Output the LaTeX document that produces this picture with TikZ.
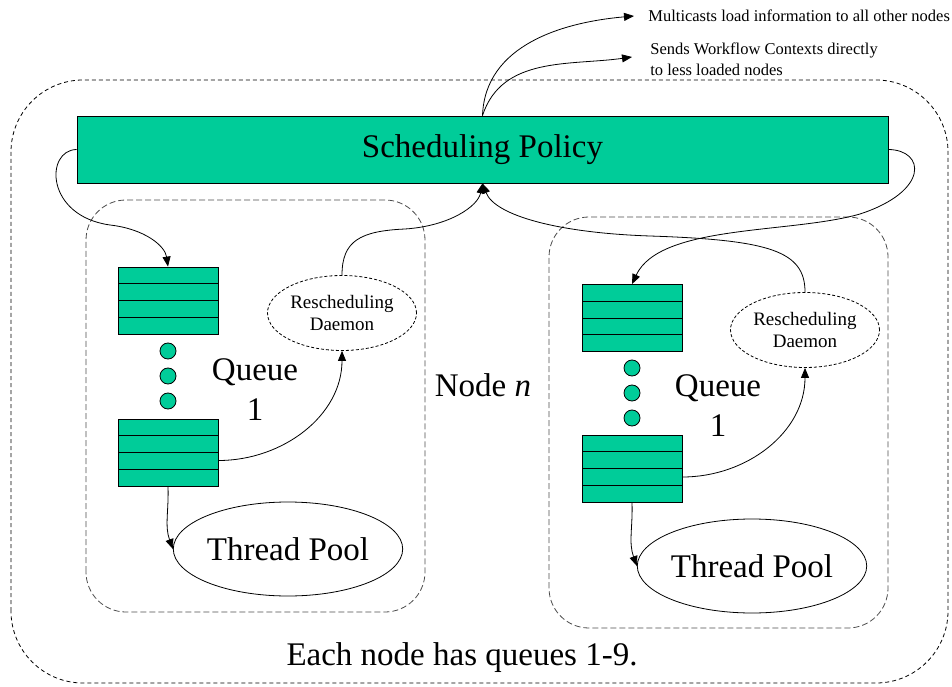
\documentclass[tikz,border=0pt]{standalone}
\usepackage{fontspec}
\setmainfont{Liberation Serif}
\usetikzlibrary{positioning, shapes.geometric, arrows.meta}
\definecolor{qgreen}{RGB}{0,204,153}

\begin{document}
\begin{tikzpicture}[x=1pt, y=1pt, line width=0.8pt,
    big/.style={font=\fontsize{33}{40}\selectfont, align=center},
    queuebox/.style={draw, fill=qgreen, minimum width=100pt, minimum height=67pt, inner sep=0pt,
      path picture={\foreach \k in {16.75,33.5,50.25}
        \draw ([yshift=-\k pt]path picture bounding box.north west) -- ([yshift=-\k pt]path picture bounding box.north east);}},
    qdot/.style={circle, draw, fill=qgreen, minimum size=16pt, inner sep=0pt},
    daemon/.style={ellipse, draw, dash pattern=on 3pt off 2pt, minimum width=149pt, minimum height=75pt,
      inner sep=0pt, align=center, font=\fontsize{19}{22}\selectfont},
    pool/.style={ellipse, draw, minimum width=223pt, minimum height=94pt, inner sep=0pt, big},
    nodebox/.style={draw, black!70, dash pattern=on 6pt off 3pt, rounded corners=40pt},
    note/.style={anchor=west, align=left, inner sep=0pt, font=\fontsize{16.5}{21}\selectfont},
    arr/.style={-{Triangle[length=10pt,width=8pt]}}]

  \useasboundingbox (0,0) rectangle (952,686);

  % whole system and the two nodes
  \draw[dash pattern=on 4pt off 3pt, rounded corners=72pt] (11,3) rectangle (948,606);
  \draw[nodebox] (86,74) rectangle (425,486);
  \draw[nodebox] (549,58) rectangle (888,469);

  \node[draw, fill=qgreen, minimum width=811pt, minimum height=67pt, big] (sched) at (482.5,536.5) {Scheduling Policy};

  % left node
  \node[queuebox] (lq1) at (168,385.5) {};
  \node[qdot] (ld1) at (168,335) {};
  \node[qdot] (ld2) at (168,310) {};
  \node[qdot] (ld3) at (168,285) {};
  \node[queuebox] (lq2) at (168,233.5) {};
  \node[big] (lqueue) at (255,296) {Queue\\1};
  \node[daemon] (ldaemon) at (342,373) {Rescheduling\\Daemon};
  \node[pool] (lpool) at (288,137) {Thread Pool};

  \node[big] (noden) at (483,301) {Node \textit{n}};

  % right node
  \node[queuebox] (rq1) at (632,368) {};
  \node[qdot] (rd1) at (632,318) {};
  \node[qdot] (rd2) at (632,293) {};
  \node[qdot] (rd3) at (632,268) {};
  \node[queuebox] (rq2) at (632,217.5) {};
  \node[big] (rqueue) at (718,280) {Queue\\1};
  \node[daemon] (rdaemon) at (805,356) {Rescheduling\\Daemon};
  \node[pool] (rpool) at (752,120) {Thread Pool};

  \node[big] (caption) at (462,28) {Each node has queues 1-9.};

  \node[note] (multi) at (648,670) {Multicasts load information to all other nodes};
  \node[note] (sends) at (650,627) {Sends Workflow Contexts directly\\to less loaded nodes};

  % connectors
  \draw[arr] (sched.north) to[out=88,in=185] ([xshift=-14pt]multi.west);
  \draw[arr] (sched.north) to[out=72,in=188] ([xshift=-18pt,yshift=2pt]sends.west);

  \draw[arr] (sched.west) .. controls (45,536) and (45,470) .. (110,461)
    .. controls (145,457) and (165,440) .. (lq1.north);
  \draw[arr] (ldaemon.north) .. controls (342,445) and (360,455) .. (405,457)
    .. controls (450,460) and (478,480) .. (sched.south);
  \draw[arr] ([yshift=-8pt]lq2.east) to[out=0,in=-90] (ldaemon.south);
  \draw[arr] (lq2.south) to[out=-88,in=110] (lpool.west);

  \draw[arr] (sched.east) .. controls (925,536) and (930,495) .. (860,472)
    .. controls (790,452) and (660,462) .. (rq1.north);
  \draw[arr] (rdaemon.north) .. controls (805,435) and (770,446) .. (650,450)
    .. controls (560,453) and (495,470) .. (sched.south);
  \draw[arr] ([yshift=-8.5pt]rq2.east) to[out=0,in=-90] (rdaemon.south);
  \draw[arr] (rq2.south) to[out=-88,in=110] (rpool.west);

\end{tikzpicture}
\end{document}
